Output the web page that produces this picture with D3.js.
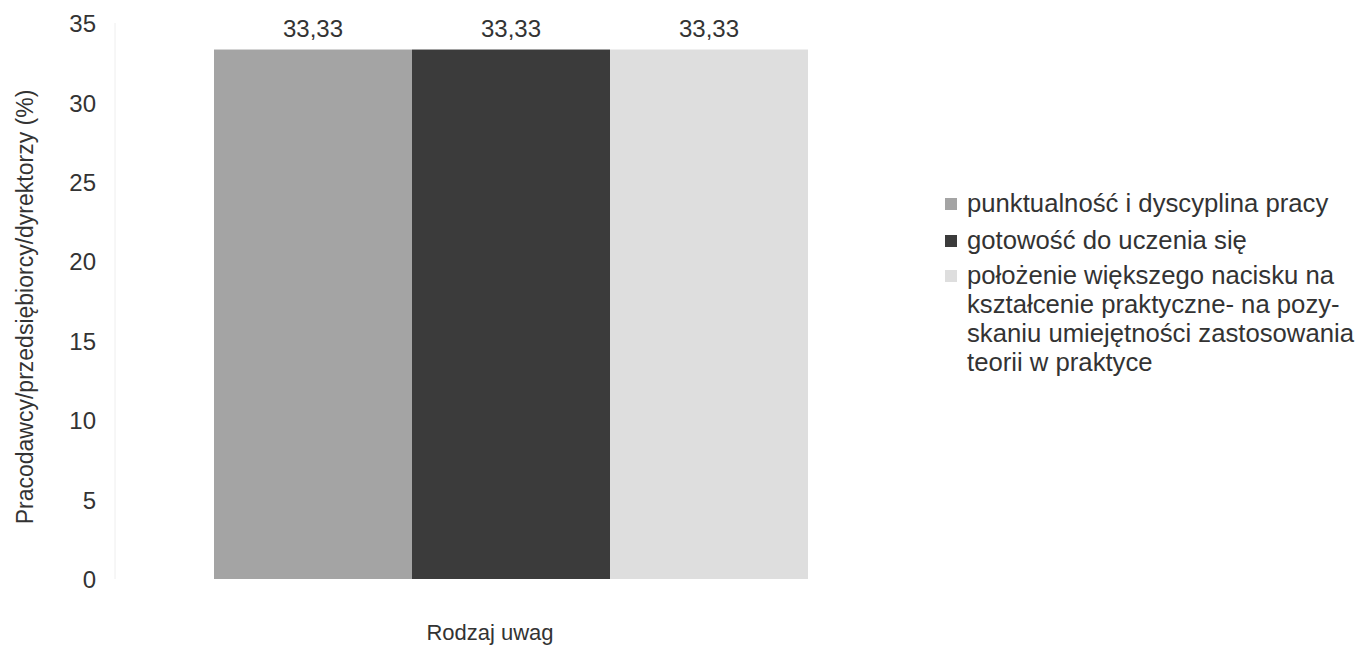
<!DOCTYPE html>
<html><head><meta charset="utf-8">
<script src="https://cdn.jsdelivr.net/npm/d3@7"></script>
<style>
html,body{margin:0;padding:0;background:#fff;}
svg text{font-family:"Liberation Sans",Arial,sans-serif;fill:#333;}
</style></head>
<body>
<svg id="c" width="1363" height="645"></svg>
<script>
const series = ["punktualność i dyscyplina pracy","gotowość do uczenia się","położenie większego nacisku na kształcenie praktyczne- na pozyskaniu umiejętności zastosowania teorii w praktyce"];
const values = [33.33, 33.33, 33.33];
const colors = ["#a4a4a4","#3b3b3b","#dedede"];
const yTicks = [0,5,10,15,20,25,30,35];
const legendLines = [
  ["punktualność i dyscyplina pracy"],
  ["gotowość do uczenia się"],
  ["położenie większego nacisku na","kształcenie praktyczne- na pozy-","skaniu umiejętności zastosowania","teorii w praktyce"]
];
const xTitle = "Rodzaj uwag";
const yTitle = "Pracodawcy/przedsiębiorcy/dyrektorzy (%)";

const svg = d3.select("#c");
const x = d3.scaleBand().domain(series).range([214, 808]).padding(0);
const y = d3.scaleLinear().domain([0,35]).range([579, 23]);

// faint axis line
svg.append("line").attr("x1",115).attr("x2",115).attr("y1",y(35)).attr("y2",y(0))
  .attr("stroke","#eeeeee").attr("stroke-width",1);

// y tick labels
const yAxis = d3.axisLeft(y).tickValues(yTicks).tickSize(0).tickPadding(0).tickFormat(d3.format("d"));
const ga = svg.append("g").attr("transform","translate(96,1)").call(yAxis);
ga.select(".domain").remove();
ga.selectAll("text").style("font-size","24px").attr("fill","#333").style("font-family","'Liberation Sans',Arial,sans-serif");

// bars
svg.selectAll("rect.bar").data(series).enter().append("rect").attr("class","bar")
  .attr("x", d=>x(d)).attr("width", x.bandwidth())
  .attr("y", (d,i)=>y(values[i])).attr("height", (d,i)=>y(0)-y(values[i]))
  .attr("fill",(d,i)=>colors[i]);

// value labels
const fmt = v => v.toFixed(2).replace(".", ",");
svg.selectAll("text.val").data(series).enter().append("text").attr("class","val")
  .attr("x", d=>x(d)+x.bandwidth()/2).attr("y", (d,i)=>y(values[i])-13)
  .attr("text-anchor","middle").style("font-size","24px").text((d,i)=>fmt(values[i]));

// x title
svg.append("text").attr("x",490).attr("y",640).attr("text-anchor","middle")
  .style("font-size","22px").text(xTitle);

// y title
svg.append("text").attr("transform","translate(33,307) rotate(-90)").attr("text-anchor","middle")
  .style("font-size","23px").text(yTitle);

// legend
const rowY = [204, 241, 276];
const lg = svg.append("g");
legendLines.forEach((lines,i)=>{
  lg.append("rect").attr("x",945).attr("y",rowY[i]-6).attr("width",12).attr("height",12).attr("fill",colors[i]);
  const t = lg.append("text").attr("x",967).attr("y",rowY[i]+8).style("font-size","25.7px");
  lines.forEach((ln,j)=>{
    t.append("tspan").attr("x",967).attr("dy", j===0?0:29).text(ln);
  });
});
</script>
</body></html>
